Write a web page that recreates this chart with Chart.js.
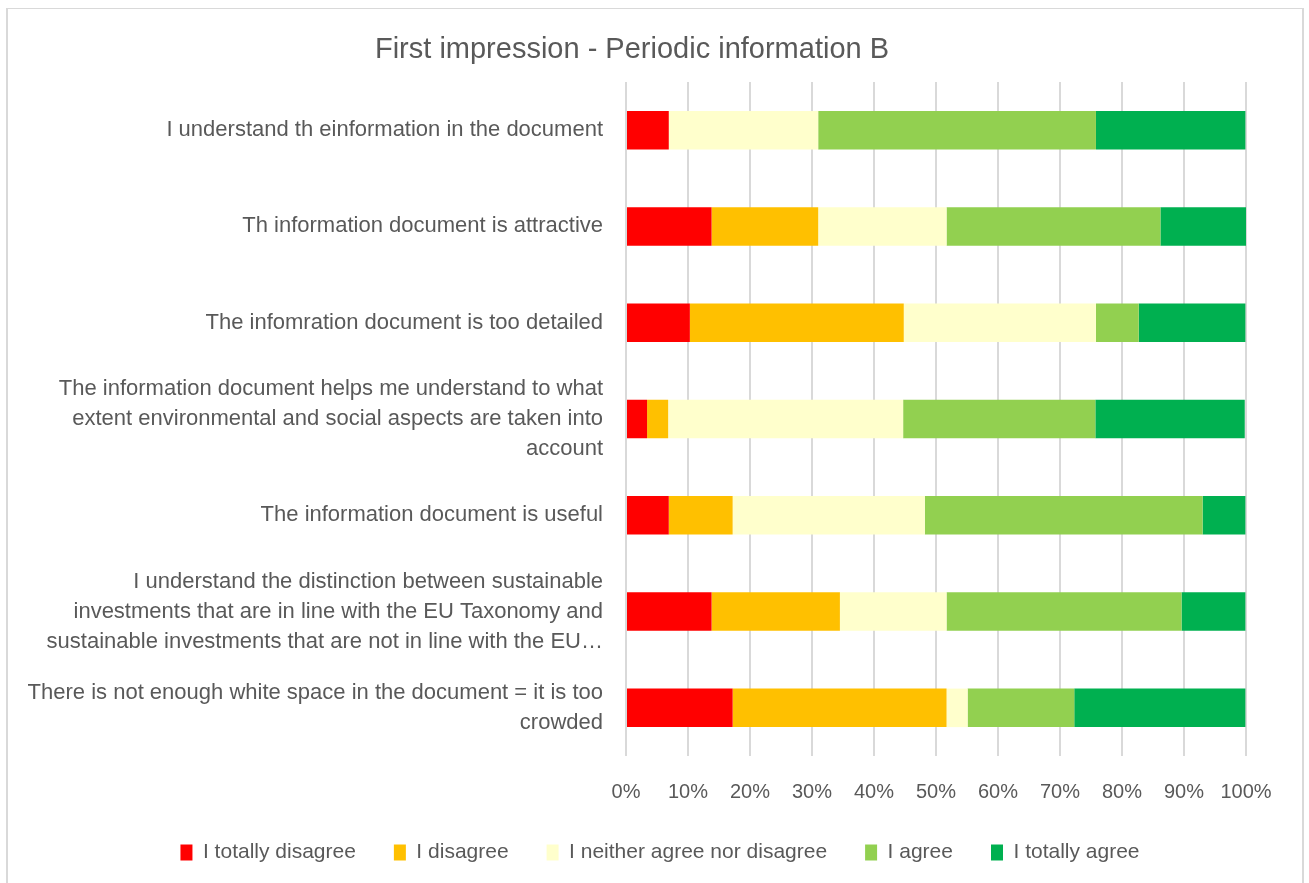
<!DOCTYPE html>
<html>
<head>
<meta charset="utf-8">
<script src="https://cdn.jsdelivr.net/npm/chart.js@4/dist/chart.umd.min.js"></script>
<style>
  html, body { margin: 0; padding: 0; background: #fff; overflow: hidden; }
  #frame {
    position: absolute; left: 6px; top: 8px; width: 1294px; height: 890px;
    border: 1px solid #d9d9d9; border-left-width: 2px; border-right-width: 2px;
  }
  #chart { display: block; }
</style>
</head>
<body>
<div id="frame"><canvas id="chart" width="1294" height="870"></canvas></div>
<script>
const categories = [
    ['I understand th einformation in the document'],
    ['Th information document is attractive'],
    ['The infomration document is too detailed'],
    ['The information document helps me understand to what', 'extent environmental and social aspects are taken into', 'account'],
    ['The information document is useful'],
    ['I understand the distinction between sustainable', 'investments that are in line with the EU Taxonomy and', 'sustainable investments that are not in line with the EU\u2026'],
    ['There is not enough white space in the document = it is too', 'crowded']
];

const totallyDisagree = [6.9, 13.8, 10.3, 3.4, 6.9, 13.8, 17.2];
const disagree        = [0.0, 17.2, 34.5, 3.4, 10.3, 20.7, 34.5];
const neither         = [24.1, 20.7, 31.0, 37.9, 31.0, 17.2, 3.4];
const agree           = [44.8, 34.5, 6.9, 31.0, 44.8, 37.9, 17.2];
const totallyAgree    = [24.1, 13.8, 17.2, 24.1, 6.9, 10.3, 27.6];

const xTicks = [0, 10, 20, 30, 40, 50, 60, 70, 80, 90, 100];

const textColor = '#595959';
const fontFamily = "'Liberation Sans', Arial, sans-serif";

function ds(label, data, color) {
    return {
        label: label,
        data: data,
        backgroundColor: color,
        borderWidth: 0,
        barPercentage: 0.4,
        categoryPercentage: 1.0
    };
}

// legend in the original sits a bit right of the canvas centre
const legendShift = {
    id: 'legendShift',
    afterLayout: function (chart) {
        chart.legend.left += 28;
        chart.legend.right += 28;
    }
};

new Chart(document.getElementById('chart').getContext('2d'), {
    type: 'bar',
    data: {
        labels: categories,
        datasets: [
            ds('I totally disagree', totallyDisagree, '#FF0000'),
            ds('I disagree', disagree, '#FFC000'),
            ds('I neither agree nor disagree', neither, '#FFFFCC'),
            ds('I agree', agree, '#92D050'),
            ds('I totally agree', totallyAgree, '#00B050')
        ]
    },
    plugins: [legendShift],
    options: {
        indexAxis: 'y',
        responsive: false,
        animation: false,
        layout: { padding: { left: 10, right: 56, top: 0, bottom: 6 } },
        plugins: {
            title: {
                display: true,
                text: 'First impression - Periodic information B',
                color: textColor,
                font: { family: fontFamily, size: 29, weight: 'normal', lineHeight: 1.2 },
                padding: { top: 23.6, bottom: 14.6 }
            },
            legend: {
                position: 'bottom',
                labels: {
                    color: textColor,
                    font: { family: fontFamily, size: 21 },
                    boxWidth: 12,
                    boxHeight: 16,
                    padding: 38
                }
            },
            tooltip: { enabled: false }
        },
        scales: {
            x: {
                stacked: true,
                min: 0,
                max: 100,
                afterBuildTicks: function (axis) {
                    axis.ticks = xTicks.map(function (v) { return { value: v }; });
                },
                afterFit: function (axis) { axis.height = 48; },
                grid: { color: '#d9d9d9', lineWidth: 2, drawTicks: false },
                border: { display: false },
                ticks: {
                    color: textColor,
                    font: { family: fontFamily, size: 20 },
                    padding: 24,
                    maxRotation: 0,
                    callback: function (v) { return v + '%'; }
                }
            },
            y: {
                stacked: true,
                afterFit: function (axis) { axis.width = 608; },
                grid: { display: false },
                border: { display: false },
                ticks: {
                    color: textColor,
                    font: { family: fontFamily, size: 22, lineHeight: 1.36 },
                    padding: 15,
                    autoSkip: false
                }
            }
        }
    }
});
</script>
</body>
</html>
